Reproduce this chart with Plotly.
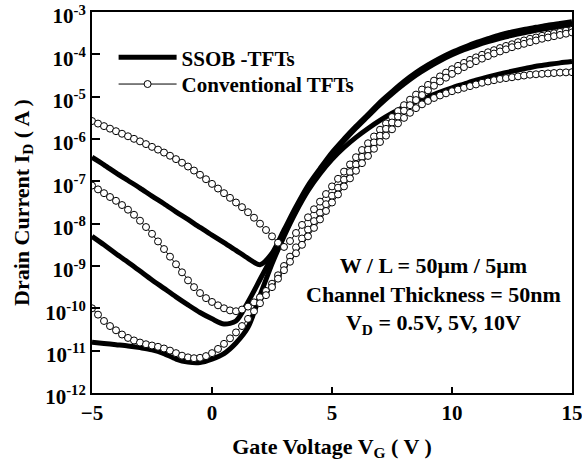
import plotly.graph_objects as go

# Gate voltage grids (V)
VG_fine = [-5, -4.75, -4.5, -4.25, -4, -3.75, -3.5, -3.25, -3, -2.75, -2.5, -2.25, -2, -1.75, -1.5, -1.25,
           -1, -0.75, -0.5, -0.25, 0, 0.25, 0.5, 0.75, 1, 1.25, 1.5, 1.75, 2, 2.25, 2.5, 2.75, 3, 3.25, 3.5,
           3.75, 4, 4.25, 4.5, 4.75, 5, 5.25, 5.5, 5.75, 6, 6.25, 6.5, 6.75, 7, 7.25, 7.5, 7.75, 8, 8.25, 8.5,
           8.75, 9, 9.25, 9.5, 9.75, 10, 10.25, 10.5, 10.75, 11, 11.25, 11.5, 11.75, 12, 12.25, 12.5, 12.75,
           13, 13.25, 13.5, 13.75, 14, 14.25, 14.5, 14.75, 15]
VG_coarse = [-5, -4.5, -4, -3.5, -3, -2.5, -2, -1.5, -1, -0.5, 0, 0.5, 1, 1.5, 2, 2.5, 3, 3.5, 4, 4.5, 5,
             5.5, 6, 6.5, 7, 7.5, 8, 8.5, 9, 9.5, 10, 10.5, 11, 11.5, 12, 12.5, 13, 13.5, 14, 14.5, 15]

# log10 of drain current (A), SSOB-TFTs (VD = 10V, 5V, 0.5V)
ssob_10V_log = [-6.43, -6.61, -6.8, -6.98, -7.16, -7.35, -7.53, -7.72, -7.9, -8.09, -8.27, -8.45, -8.63,
                -8.82, -8.97, -8.7, -8.15, -7.6, -7.1, -6.7, -6.32, -6.0, -5.7, -5.42, -5.13, -4.88, -4.64,
                -4.43, -4.25, -4.09, -3.95, -3.83, -3.72, -3.63, -3.54, -3.47, -3.41, -3.36, -3.31, -3.27, -3.23]
ssob_5V_log = [-8.3, -8.5, -8.71, -8.91, -9.12, -9.33, -9.53, -9.73, -9.92, -10.1, -10.25, -10.37, -10.3,
               -9.85, -9.32, -8.78, -8.23, -7.68, -7.17, -6.75, -6.37, -6.04, -5.74, -5.46, -5.18, -4.93,
               -4.7, -4.49, -4.31, -4.15, -4.01, -3.89, -3.79, -3.7, -3.62, -3.55, -3.49, -3.43, -3.38,
               -3.34, -3.3]
ssob_05V_log = [-10.8, -10.83, -10.86, -10.89, -10.93, -10.98, -11.07, -11.2, -11.27, -11.28, -11.2, -11.07,
                -10.82, -10.45, -9.7, -8.95, -8.3, -7.72, -7.22, -6.82, -6.48, -6.2, -5.96, -5.75, -5.56,
                -5.39, -5.24, -5.11, -5.0, -4.89, -4.79, -4.7, -4.61, -4.53, -4.46, -4.4, -4.34, -4.28,
                -4.24, -4.2, -4.17]

# log10 of drain current (A), conventional TFTs (VD = 10V, 5V, 0.5V)
conv_10V_log = [-5.575, -5.635, -5.695, -5.755, -5.815, -5.875, -5.935, -5.995, -6.055, -6.12, -6.185,
                -6.25, -6.32, -6.395, -6.475, -6.56, -6.65, -6.745, -6.845, -6.95, -7.06, -7.17, -7.28,
                -7.39, -7.5, -7.61, -7.73, -7.86, -8.0, -8.15, -8.3, -8.45, -8.55, -8.41, -8.22, -8.03,
                -7.85, -7.66, -7.48, -7.3, -7.12, -6.94, -6.77, -6.6, -6.43, -6.26, -6.1, -5.94, -5.78,
                -5.63, -5.48, -5.34, -5.2, -5.07, -4.95, -4.83, -4.72, -4.62, -4.52, -4.43, -4.35, -4.27,
                -4.2, -4.13, -4.07, -4.01, -3.95, -3.9, -3.85, -3.8, -3.76, -3.71, -3.67, -3.63, -3.6,
                -3.56, -3.53, -3.5, -3.47, -3.44, -3.42]
conv_5V_log = [-7.1, -7.19, -7.28, -7.37, -7.46, -7.56, -7.67, -7.79, -7.93, -8.08, -8.24, -8.42, -8.6,
               -8.78, -8.96, -9.15, -9.34, -9.5, -9.64, -9.76, -9.85, -9.93, -10.0, -10.05, -10.07, -10.03,
               -9.96, -9.86, -9.74, -9.59, -9.42, -9.22, -9.0, -8.78, -8.56, -8.35, -8.14, -7.94, -7.74,
               -7.54, -7.34, -7.15, -6.96, -6.78, -6.6, -6.42, -6.25, -6.08, -5.92, -5.76, -5.61, -5.47,
               -5.33, -5.2, -5.08, -4.96, -4.85, -4.74, -4.64, -4.55, -4.46, -4.38, -4.3, -4.23, -4.16,
               -4.1, -4.04, -3.98, -3.93, -3.88, -3.83, -3.79, -3.75, -3.71, -3.67, -3.63, -3.6, -3.57,
               -3.54, -3.51, -3.48]
conv_05V_log = [-10.0, -10.15, -10.3, -10.42, -10.52, -10.62, -10.7, -10.76, -10.81, -10.85, -10.88, -10.91,
                -10.95, -11.0, -11.06, -11.12, -11.16, -11.18, -11.17, -11.13, -11.06, -10.96, -10.84,
                -10.71, -10.57, -10.42, -10.25, -10.07, -9.88, -9.69, -9.5, -9.3, -9.1, -8.9, -8.7, -8.5,
                -8.3, -8.1, -7.9, -7.7, -7.5, -7.31, -7.12, -6.93, -6.75, -6.57, -6.4, -6.23, -6.07,
                -5.92, -5.77, -5.63, -5.5, -5.38, -5.27, -5.18, -5.1, -5.03, -4.97, -4.92, -4.87, -4.83,
                -4.79, -4.75, -4.71, -4.67, -4.64, -4.61, -4.58, -4.56, -4.54, -4.52, -4.5, -4.48, -4.47,
                -4.46, -4.45, -4.44, -4.43, -4.425, -4.42]

y_tick_exponents = [-12, -11, -10, -9, -8, -7, -6, -5, -4, -3]
x_tick_values = [-5, 0, 5, 10, 15]

FONT = "Liberation Serif, Times New Roman, serif"
LEG_FONT = dict(family=FONT, size=21, color="black", weight="bold")

fig = go.Figure()

ssob_sets = [ssob_10V_log, ssob_5V_log, ssob_05V_log]
for i, s in enumerate(ssob_sets):
    fig.add_trace(go.Scatter(
        x=VG_coarse, y=[10 ** v for v in s], mode="lines",
        line=dict(color="black", width=5, shape="spline", smoothing=0.8),
        name="SSOB -TFTs", showlegend=(i == 0), legend="legend",
    ))

conv_sets = [conv_10V_log, conv_5V_log, conv_05V_log]
for i, s in enumerate(conv_sets):
    fig.add_trace(go.Scatter(
        x=VG_fine, y=[10 ** v for v in s], mode="lines+markers",
        line=dict(color="black", width=1),
        marker=dict(symbol="circle", size=7, color="white", line=dict(color="black", width=1)),
        name="Conventional TFTs", showlegend=(i == 0), legend="legend2",
    ))

fig.add_annotation(
    x=0.712, y=0.255, xref="paper", yref="paper", xanchor="center", yanchor="middle",
    text="W / L = 50\u03bcm / 5\u03bcm<br>Channel Thickness = 50nm<br>V<sub>D</sub> = 0.5V, 5V, 10V",
    showarrow=False, align="center",
    font=dict(family=FONT, size=22, color="black", weight="bold"),
)

fig.update_layout(
    width=582, height=472,
    margin=dict(l=92, r=10, t=12, b=79),
    paper_bgcolor="white", plot_bgcolor="white",
    font=dict(family=FONT, size=20, color="black", weight="bold"),
    showlegend=True,
    legend=dict(x=0.045, y=0.880, xanchor="left", yanchor="middle",
                bgcolor="rgba(0,0,0,0)", borderwidth=0, font=LEG_FONT, itemwidth=58),
    legend2=dict(x=0.045, y=0.810, xanchor="left", yanchor="middle",
                 bgcolor="rgba(0,0,0,0)", borderwidth=0, font=LEG_FONT, itemwidth=58),
    xaxis=dict(
        range=[-5, 15], tickvals=x_tick_values, ticks="inside", ticklen=6, tickwidth=1.5,
        tickcolor="black", showline=True, linecolor="black", linewidth=2, mirror=True,
        showgrid=False, zeroline=False, ticklabeloverflow="allow", automargin=False,
        tickfont=dict(family=FONT, size=21, color="black", weight="bold"),
        title=dict(text="Gate Voltage V<sub>G</sub> ( V )", standoff=14,
                   font=dict(family=FONT, size=22, color="black", weight="bold")),
    ),
    yaxis=dict(
        type="log", range=[-12.002, -2.998],
        tickvals=[10 ** e for e in y_tick_exponents],
        ticktext=["10<sup>%d</sup>" % e for e in y_tick_exponents],
        ticks="inside", ticklen=8, tickwidth=1.5, tickcolor="black",
        showline=True, linecolor="black", linewidth=2, mirror=True,
        showgrid=False, zeroline=False, ticklabeloverflow="allow", automargin=False,
        ticklabelshift=4,
        tickfont=dict(family=FONT, size=21, color="black", weight="bold"),
        title=dict(text="Drain Current I<sub>D</sub> ( A )", standoff=10,
                   font=dict(family=FONT, size=22, color="black", weight="bold")),
    ),
)

fig.write_html("out.html", config={"displayModeBar": False},
               post_script="document.body.style.margin='0';")
